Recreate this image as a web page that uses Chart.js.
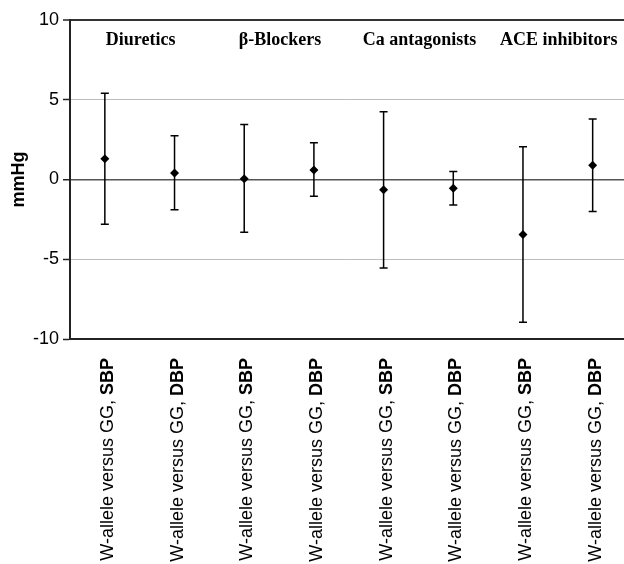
<!DOCTYPE html>
<html>
<head>
<meta charset="utf-8">
<script src="https://cdn.jsdelivr.net/npm/chart.js@4/dist/chart.umd.min.js"></script>
<style>
  body { margin: 0; overflow: hidden; background: #fff; }
</style>
</head>
<body>
<canvas id="chart" width="632" height="564"></canvas>
<script>
var groups = ['Diuretics', '\u03B2-Blockers', 'Ca antagonists', 'ACE inhibitors'];
var measures = ['SBP', 'DBP', 'SBP', 'DBP', 'SBP', 'DBP', 'SBP', 'DBP'];
var means = [1.3, 0.4, 0.05, 0.6, -0.65, -0.55, -3.45, 0.9];
var upper = [5.4, 2.75, 3.45, 2.3, 4.25, 0.5, 2.05, 3.8];
var lower = [-2.8, -1.9, -3.3, -1.05, -5.55, -1.6, -8.95, -2.0];
var yTicks = [-10, -5, 0, 5, 10];

// error bars under the diamonds
var errorBars = {
    id: 'errorBars',
    beforeDatasetsDraw: function(chart) {
        var ctx = chart.ctx;
        var x = chart.scales.x, y = chart.scales.y;
        ctx.save();
        ctx.strokeStyle = '#000';
        ctx.lineWidth = 1.5;
        for (var i = 0; i < means.length; i++) {
            var px = x.getPixelForValue(i);
            var top = y.getPixelForValue(upper[i]);
            var bot = y.getPixelForValue(lower[i]);
            ctx.beginPath();
            ctx.moveTo(px, top); ctx.lineTo(px, bot);
            ctx.moveTo(px - 4, top); ctx.lineTo(px + 4, top);
            ctx.moveTo(px - 4, bot); ctx.lineTo(px + 4, bot);
            ctx.stroke();
        }
        ctx.restore();
    }
};

// group titles and the rotated category labels (with bold SBP/DBP)
var labelsPlugin = {
    id: 'labelsPlugin',
    afterDraw: function(chart) {
        var ctx = chart.ctx;
        var x = chart.scales.x;
        ctx.save();
        ctx.fillStyle = '#000';
        ctx.font = 'bold 18px "Liberation Serif", "Times New Roman", serif';
        ctx.textAlign = 'center';
        ctx.textBaseline = 'middle';
        for (var g = 0; g < groups.length; g++) {
            var cx = (x.getPixelForValue(g * 2) + x.getPixelForValue(g * 2 + 1)) / 2;
            ctx.fillText(groups[g], cx + 1, 40);
        }
        for (var i = 0; i < measures.length; i++) {
            var px = x.getPixelForValue(i);
            ctx.save();
            ctx.translate(px + 8, 358);
            ctx.rotate(-Math.PI / 2);
            ctx.textAlign = 'right';
            ctx.textBaseline = 'alphabetic';
            ctx.font = 'bold 18px "Liberation Sans", Arial, sans-serif';
            var w = ctx.measureText(measures[i]).width;
            ctx.fillText(measures[i], 0, 0);
            ctx.font = '18px "Liberation Sans", Arial, sans-serif';
            ctx.fillText('W-allele versus GG, ', -w, 0);
            ctx.restore();
        }
        ctx.restore();
    }
};

new Chart(document.getElementById('chart'), {
    type: 'line',
    data: {
        labels: measures,
        datasets: [{
            data: means,
            showLine: false,
            pointStyle: 'rectRot',
            pointRadius: 4.5,
            pointHoverRadius: 4.5,
            pointBackgroundColor: '#000',
            pointBorderWidth: 0
        }]
    },
    options: {
        responsive: false,
        animation: false,
        layout: { padding: { top: 20, bottom: 225, right: 4, left: 0 } },
        plugins: { legend: { display: false }, tooltip: { enabled: false } },
        scales: {
            x: {
                type: 'category',
                offset: true,
                grid: { display: false },
                ticks: { display: false },
                border: { display: true, color: '#222', width: 2 },
                afterFit: function(scale) { scale.height = 0; }
            },
            y: {
                min: -10,
                max: 10,
                afterBuildTicks: function(scale) {
                    scale.ticks = yTicks.map(function(v) { return { value: v }; });
                },
                afterFit: function(scale) { scale.width = 70; },
                ticks: {
                    color: '#000',
                    padding: 4,
                    font: { family: '"Liberation Sans", Arial, sans-serif', size: 18 }
                },
                grid: {
                    color: function(c) {
                        var v = c.tick.value;
                        if (v === 0) return '#555';
                        if (v === 10 || v === -10) return '#333';
                        return '#bdbdbd';
                    },
                    lineWidth: function(c) {
                        var v = c.tick.value;
                        if (v === 10) return 2;
                        if (v === 0) return 1.5;
                        return 1;
                    },
                    tickColor: '#222',
                    tickLength: 7,
                    tickWidth: 1.5
                },
                border: { display: true, color: '#222', width: 2 },
                title: {
                    display: true,
                    text: 'mmHg',
                    color: '#000',
                    padding: { top: 8, bottom: 0 },
                    font: { family: '"Liberation Sans", Arial, sans-serif', size: 18, weight: 'bold' }
                }
            }
        }
    },
    plugins: [errorBars, labelsPlugin]
});
</script>
</body>
</html>
